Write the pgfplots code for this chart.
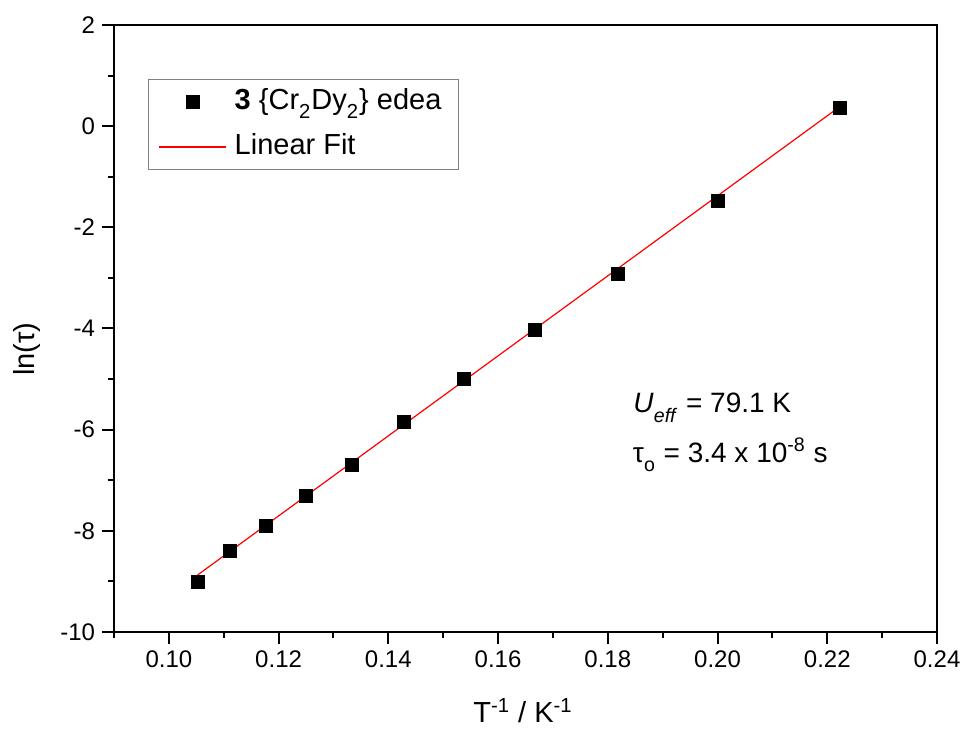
\documentclass[border=0pt]{standalone}
\usepackage{fontspec}
\setmainfont{Liberation Sans}
\usepackage{pgfplots}
\pgfplotsset{compat=1.18}
\definecolor{fitred}{RGB}{255,0,0}
\newcommand\osub[1]{\raisebox{-0.35ex}{\textsubscript{#1}}}
\begin{document}
\begin{tikzpicture}
\path[use as bounding box] (-57bp,-48.5bp) rectangle (425bp,316bp);
\begin{axis}[
  at={(0,0)}, anchor=south west,
  scale only axis, width=411.5bp, height=303.5bp,
  xmin=0.09, xmax=0.24, ymin=-10, ymax=2,
  xtick={0.10,0.12,0.14,0.16,0.18,0.20,0.22,0.24},
  minor xtick={0.09,0.11,0.13,0.15,0.17,0.19,0.21,0.23},
  ytick={-10,-8,-6,-4,-2,0,2},
  minor ytick={-9,-7,-5,-3,-1,1},
  tick pos=left, tick align=outside,
  major tick length=6bp, minor tick length=3bp,
  axis line style={line width=1bp},
  every tick/.style={line width=1bp, black},
  /pgf/number format/assume math mode=true,
  ticklabel style={font=\fontsize{12bp}{14bp}\selectfont},
  xticklabel style={/pgf/number format/.cd, fixed, fixed zerofill, precision=2},
  xlabel={T\textsuperscript{-1} / K\textsuperscript{-1}},
  ylabel={ln(τ)},
  label style={font=\fontsize{14.5bp}{17bp}\selectfont},
  xlabel style={at={(rel axis cs:0.497,-0.1494)}, anchor=base},
  ylabel style={at={(rel axis cs:-0.096,0.466)}, anchor=base, rotate=0},
  legend style={at={(rel axis cs:0.0413,0.911)}, anchor=north west,
    draw=gray, line width=0.5bp,
    font=\fontsize{14.5bp}{17bp}\selectfont,
    inner xsep=5bp, inner ysep=0bp, row sep=0bp,
    nodes={text height=10.5bp, text depth=3.5bp, inner xsep=3.6bp, inner ysep=4.3bp}},
  legend cell align=left,
]
\addplot[only marks, mark=square*, mark size=3.25bp, black, fill=black,
  legend image code/.code={\draw[mark repeat=2,mark phase=2] plot coordinates {(0bp,0bp) (16.75bp,0bp) (33.5bp,0bp)};}]
  coordinates {
  (0.105263,-9.00)
  (0.111111,-8.40)
  (0.117647,-7.91)
  (0.125000,-7.30)
  (0.133333,-6.69)
  (0.142857,-5.85)
  (0.153846,-5.00)
  (0.166667,-4.03)
  (0.181818,-2.93)
  (0.200000,-1.47)
  (0.222222,0.37)
  };
\addlegendentry{\textbf{3} \{Cr\osub{2}Dy\osub{2}\} edea}
\addplot[fitred, line width=0.6bp, no marks,
  legend image code/.code={\draw[fitred, line width=1bp] (0bp,0bp) -- (33.5bp,0bp);}]
  coordinates {(0.105263,-8.870590) (0.222222,0.380872)};
\addlegendentry{Linear Fit}
\node[anchor=base west, font=\fontsize{14bp}{16bp}\selectfont] at (axis cs:0.1834,-5.67)
  {\textit{U}\osub{\textit{eff}} = 79.1 K};
\node[anchor=base west, font=\fontsize{14bp}{16bp}\selectfont] at (axis cs:0.1833,-6.64)
  {τ\osub{o} = 3.4 x 10\textsuperscript{-8} s};
\end{axis}
\end{tikzpicture}
\end{document}
